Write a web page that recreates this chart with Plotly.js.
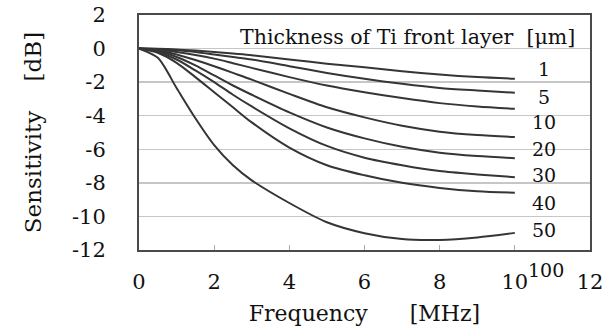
<!DOCTYPE html>
<html>
<head>
<meta charset="utf-8">
<script src="https://cdn.plot.ly/plotly-3.0.1.min.js"></script>
<style>html,body{margin:0;padding:0;background:#fff;}#chart{width:614px;height:333px;}</style>
</head>
<body>
<div id="chart"></div>
<script>
// Frequency [MHz]
var freq = [0, 0.5, 1, 1.5, 2, 2.5, 3, 4, 5, 6, 7, 8, 9, 10];
// Sensitivity [dB] per Ti front-layer thickness
var thickness = ["1", "5", "10", "20", "30", "40", "50", "100"];
var s1   = [0, -0.01, -0.05, -0.12, -0.2, -0.3, -0.4, -0.65, -0.9, -1.12, -1.35, -1.55, -1.7, -1.8];
var s5   = [0, -0.02, -0.1, -0.2, -0.35, -0.5, -0.65, -1.05, -1.45, -1.8, -2.1, -2.35, -2.5, -2.63];
var s10  = [0, -0.05, -0.2, -0.38, -0.6, -0.87, -1.15, -1.7, -2.2, -2.6, -2.95, -3.25, -3.45, -3.59];
var s20  = [0, -0.1, -0.35, -0.68, -1.05, -1.45, -1.85, -2.7, -3.5, -4.1, -4.6, -4.95, -5.15, -5.27];
var s30  = [0, -0.15, -0.5, -1.0, -1.6, -2.2, -2.75, -3.8, -4.7, -5.35, -5.85, -6.2, -6.4, -6.53];
var s40  = [0, -0.2, -0.65, -1.3, -2.0, -2.75, -3.45, -4.75, -5.8, -6.5, -6.95, -7.3, -7.5, -7.66];
var s50  = [0, -0.25, -0.85, -1.7, -2.6, -3.5, -4.4, -5.9, -6.95, -7.55, -8.0, -8.3, -8.5, -8.59];
var s100 = [0, -0.55, -2.35, -4.15, -5.75, -6.95, -7.85, -9.2, -10.35, -11.0, -11.35, -11.4, -11.25, -10.98];
var series = [s1, s5, s10, s20, s30, s40, s50, s100];

// curve label positions: x in data units, y in data units (last one in paper units, below the axis)
var labelX = [10.77, 10.77, 10.77, 10.77, 10.77, 10.77, 10.77, 10.83];
var labelY = [-1.24, -2.86, -4.35, -6.0, -7.56, -9.17, -10.82, -0.085];

var xTicks = [0, 2, 4, 6, 8, 10, 12];
var yTicks = [2, 0, -2, -4, -6, -8, -10, -12];

var serif = "DejaVu Serif";

var traces = series.map(function (s, i) {
  return {
    x: freq, y: s, type: "scatter", mode: "lines", name: thickness[i],
    line: {color: "#353535", width: 2, shape: "spline", smoothing: 0.8},
    hoverinfo: "skip"
  };
});

var annotations = thickness.map(function (t, i) {
  var last = (i === thickness.length - 1);
  return {
    text: t, x: labelX[i], y: labelY[i], xref: "x", yref: last ? "paper" : "y",
    showarrow: false, xanchor: "center", yanchor: "middle",
    font: {family: serif, size: 19, color: "#111"}
  };
});
annotations.push({
  text: "Thickness of Ti front layer\u00A0\u00A0[\u03BCm]",
  x: 11.66, y: 0.68, xref: "x", yref: "y", showarrow: false,
  xanchor: "right", yanchor: "middle",
  font: {family: serif, size: 20.5, color: "#111"}
});

var layout = {
  width: 614, height: 333,
  margin: {l: 139, r: 24, t: 15, b: 83},
  paper_bgcolor: "#fff", plot_bgcolor: "#fff",
  showlegend: false,
  font: {family: serif, color: "#111"},
  xaxis: {
    range: [0, 12], tickvals: xTicks, ticktext: xTicks.map(String),
    ticks: "inside", ticklen: 5, tickcolor: "#aaa", tickwidth: 1,
    ticklabelstandoff: 12,
    showgrid: false, zeroline: false,
    showline: true, mirror: true, linecolor: "#4a4a4a", linewidth: 2,
    tickfont: {family: serif, size: 21, color: "#111"},
    title: {text: "Frequency\u00A0\u00A0\u00A0\u00A0\u00A0\u00A0[MHz]", font: {family: serif, size: 22, color: "#111"}, standoff: 12}
  },
  yaxis: {
    range: [-12, 2], tickvals: yTicks, ticktext: yTicks.map(String),
    ticks: "", ticklabelstandoff: 27,
    showgrid: true, gridcolor: "#c6c6c6", gridwidth: 1.5,
    zeroline: false,
    showline: true, mirror: true, linecolor: "#4a4a4a", linewidth: 2,
    tickfont: {family: serif, size: 21, color: "#111"},
    title: {text: "Sensitivity\u00A0\u00A0\u00A0\u00A0[dB]", font: {family: serif, size: 23, color: "#111"}, standoff: 24}
  },
  annotations: annotations
};

Plotly.newPlot("chart", traces, layout, {staticPlot: true, displayModeBar: false});
</script>
</body>
</html>
